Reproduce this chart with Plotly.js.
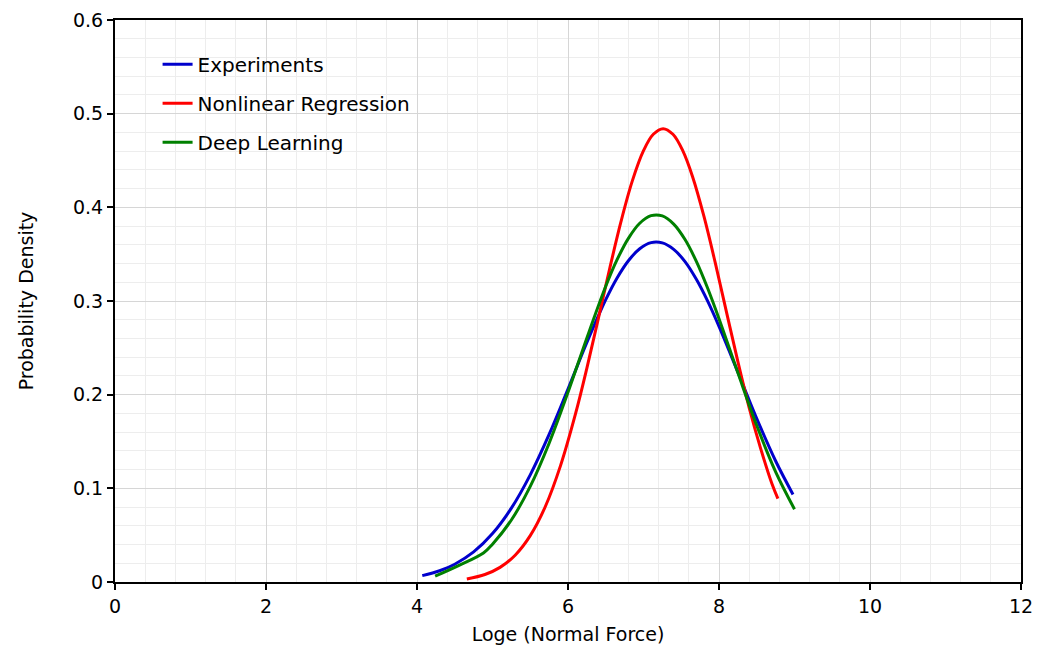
<!DOCTYPE html>
<html>
<head>
<meta charset="utf-8">
<script src="https://cdn.plot.ly/plotly-3.0.1.min.js"></script>
<style>body{margin:0;padding:0;background:#fff;}#chart{width:1051px;height:653px;}</style>
</head>
<body>
<div id="chart"></div>
<script>
// Values
const seriesNames = ["Experiments", "Nonlinear Regression", "Deep Learning"];

const expX = [4.07, 4.3, 4.5, 4.75, 5.0, 5.25, 5.5, 5.75, 6.0, 6.25, 6.5, 6.65, 6.8, 6.95, 7.1, 7.25, 7.4, 7.55, 7.7, 7.85, 8.0, 8.25, 8.5, 8.75, 8.98];
const expY = [0.0068, 0.012, 0.019, 0.0321, 0.0517, 0.0789, 0.1144, 0.1575, 0.206, 0.2557, 0.3014, 0.3246, 0.343, 0.3558, 0.3623, 0.362, 0.3551, 0.342, 0.3231, 0.2998, 0.2729, 0.224, 0.1745, 0.1292, 0.0935];

const nlrX = [4.66, 4.9, 5.1, 5.3, 5.5, 5.7, 5.9, 6.1, 6.25, 6.4, 6.55, 6.7, 6.85, 7.0, 7.13, 7.26, 7.39, 7.52, 7.65, 7.8, 7.95, 8.1, 8.25, 8.4, 8.55, 8.7, 8.78];
const nlrY = [0.0033, 0.008, 0.0156, 0.0286, 0.0495, 0.0806, 0.124, 0.1797, 0.2284, 0.2807, 0.3339, 0.3842, 0.4277, 0.4605, 0.478, 0.484, 0.478, 0.4605, 0.4327, 0.3905, 0.3409, 0.2879, 0.2352, 0.1859, 0.143, 0.1051, 0.089];

const dlX = [4.24, 4.55, 4.88, 5.0, 5.25, 5.5, 5.75, 6.0, 6.25, 6.5, 6.65, 6.8, 6.95, 7.1, 7.25, 7.4, 7.55, 7.7, 7.85, 8.0, 8.25, 8.5, 8.75, 9.0];
const dlY = [0.0062, 0.0175, 0.031, 0.0404, 0.0662, 0.1021, 0.1482, 0.2025, 0.2606, 0.3157, 0.3441, 0.3669, 0.383, 0.3911, 0.3908, 0.3821, 0.3656, 0.3423, 0.3136, 0.2811, 0.2233, 0.167, 0.1176, 0.0777];

const xTickVals = [0, 2, 4, 6, 8, 10, 12];
const yTickVals = [0, 0.1, 0.2, 0.3, 0.4, 0.5, 0.6];
const yTickText = ["0", "0.1", "0.2", "0.3", "0.4", "0.5", "0.6"];

const colors = ["#0000cc", "#ff0000", "#008000"];
const FONT = "DejaVu Sans, Verdana, sans-serif";

function tr(x, y, i) {
  return {
    x: x, y: y, name: seriesNames[i], type: "scatter", mode: "lines",
    line: {color: colors[i], width: 3, shape: "spline", smoothing: 1},
    legendgroup: "g" + i
  };
}

const data = [tr(expX, expY, 0), tr(nlrX, nlrY, 1), tr(dlX, dlY, 2)];

const axisCommon = {
  showline: true, linecolor: "#000", linewidth: 2, mirror: true,
  ticks: "outside", ticklen: 6, tickwidth: 2, tickcolor: "#000",
  showgrid: true, gridcolor: "#d6d6d6", gridwidth: 1,
  zeroline: false,
  tickfont: {family: FONT, size: 19, color: "#000"}
};

const layout = {
  width: 1051, height: 653,
  margin: {l: 115, r: 30, t: 20, b: 71},
  paper_bgcolor: "#fff", plot_bgcolor: "#fff",
  font: {family: FONT, size: 19, color: "#000"},
  showlegend: true,
  legend: {
    x: 0.047, y: 0.956, xanchor: "left", yanchor: "top",
    bgcolor: "rgba(0,0,0,0)", borderwidth: 0,
    traceorder: "grouped", tracegroupgap: 10,
    font: {family: FONT, size: 20, color: "#000"}
  },
  xaxis: Object.assign({}, axisCommon, {
    range: [0, 12], tickvals: xTickVals, ticktext: xTickVals.map(String),
    minor: {dtick: 0.4, showgrid: true, gridcolor: "#ededed", gridwidth: 1, ticks: ""},
    title: {text: "Loge (Normal Force)", font: {family: FONT, size: 19, color: "#000"}, standoff: 12}
  }),
  yaxis: Object.assign({}, axisCommon, {
    range: [0, 0.6], tickvals: yTickVals, ticktext: yTickText,
    minor: {dtick: 0.02, showgrid: true, gridcolor: "#ededed", gridwidth: 1, ticks: ""},
    title: {text: "Probability Density", font: {family: FONT, size: 19, color: "#000"}, standoff: 34}
  })
};

Plotly.newPlot("chart", data, layout, {displayModeBar: false, staticPlot: true});
</script>
</body>
</html>
